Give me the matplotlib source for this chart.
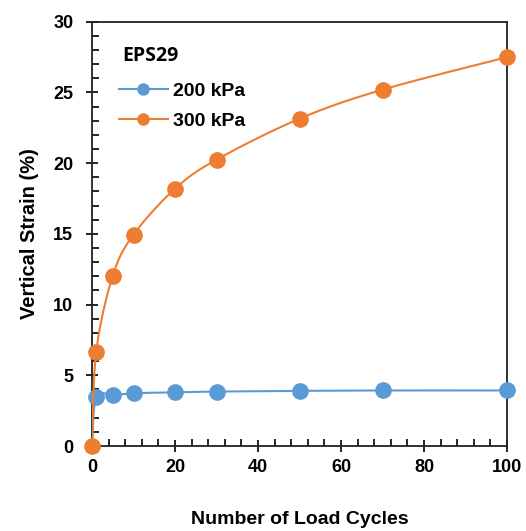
import numpy as np
import matplotlib
matplotlib.use("Agg")
import matplotlib.pyplot as plt
from matplotlib.ticker import MultipleLocator

cycles = [0, 1, 5, 10, 20, 30, 50, 70, 100]
strain_200 = [0, 3.47, 3.6, 3.73, 3.8, 3.85, 3.9, 3.93, 3.93]
strain_300 = [0, 6.65, 12.05, 14.95, 18.2, 20.25, 23.15, 25.2, 27.5]

blue = "#5B9BD5"
orange = "#ED7D31"


def smooth(x, y, n=30):
    # excel-style smoothed line (bezier, tension 1/6)
    x = np.asarray(x, float)
    y = np.asarray(y, float)
    px, py = [x[0]], [y[0]]
    t = np.linspace(0, 1, n)[1:]
    for i in range(len(x) - 1):
        i0 = max(i - 1, 0)
        i3 = min(i + 2, len(x) - 1)
        c1x = x[i] + (x[i + 1] - x[i0]) / 6
        c1y = y[i] + (y[i + 1] - y[i0]) / 6
        c2x = x[i + 1] - (x[i3] - x[i]) / 6
        c2y = y[i + 1] - (y[i3] - y[i]) / 6
        bx = (1 - t) ** 3 * x[i] + 3 * (1 - t) ** 2 * t * c1x + 3 * (1 - t) * t ** 2 * c2x + t ** 3 * x[i + 1]
        by = (1 - t) ** 3 * y[i] + 3 * (1 - t) ** 2 * t * c1y + 3 * (1 - t) * t ** 2 * c2y + t ** 3 * y[i + 1]
        px.extend(bx)
        py.extend(by)
    return px, py


plt.rcParams["font.family"] = ["Liberation Sans", "DejaVu Sans"]

fig = plt.figure(figsize=(5.26, 5.31), dpi=100)
ax = fig.add_axes([0.175, 0.160, 0.789, 0.799])

sx, sy = smooth(cycles, strain_200)
ax.plot(sx, sy, color=blue, lw=1.5, zorder=2)
ax.plot(cycles[1:], strain_200[1:], "o", color=blue, ms=11, zorder=3, clip_on=False)
sx, sy = smooth(cycles, strain_300)
ax.plot(sx, sy, color=orange, lw=1.5, zorder=4)
ax.plot(cycles, strain_300, "o", color=orange, ms=11, zorder=5, clip_on=False)

# legend
ax.plot([], [], "o-", color=blue, ms=8, lw=1.5, label="200 kPa")
ax.plot([], [], "o-", color=orange, ms=8, lw=1.5, label="300 kPa")
leg = ax.legend(loc="upper left", bbox_to_anchor=(0.065, 0.857), frameon=False,
                borderaxespad=0, borderpad=0,
                prop={"size": 14, "weight": "bold"}, handlelength=2.5,
                labelspacing=0.65, handletextpad=0.3)
ax.text(0.072, 0.92, "EPS29", transform=ax.transAxes, fontsize=14,
        fontweight="bold", family=["Open Sans", "DejaVu Sans"], va="center")

ax.set_xlim(0, 100)
ax.set_ylim(0, 30)
ax.xaxis.set_major_locator(MultipleLocator(20))
ax.xaxis.set_minor_locator(MultipleLocator(4))
ax.yaxis.set_major_locator(MultipleLocator(5))
ax.yaxis.set_minor_locator(MultipleLocator(1))
ax.tick_params(which="major", direction="inout", length=9, width=1.2,
               labelsize=13)
ax.tick_params(axis="y", which="major", pad=9)
ax.tick_params(axis="x", which="major", pad=5)
ax.tick_params(which="minor", direction="in", length=5, width=1.2)
for lab in ax.get_xticklabels() + ax.get_yticklabels():
    lab.set_fontweight("bold")
for s in ax.spines.values():
    s.set_linewidth(1.3)
    s.set_color("#222222")

ax.set_xlabel("Number of Load Cycles", fontsize=14, fontweight="bold", labelpad=25)
ax.set_ylabel("Vertical Strain (%)", fontsize=14.5, fontweight="bold", labelpad=10)

fig.savefig("out.png", dpi=100)
